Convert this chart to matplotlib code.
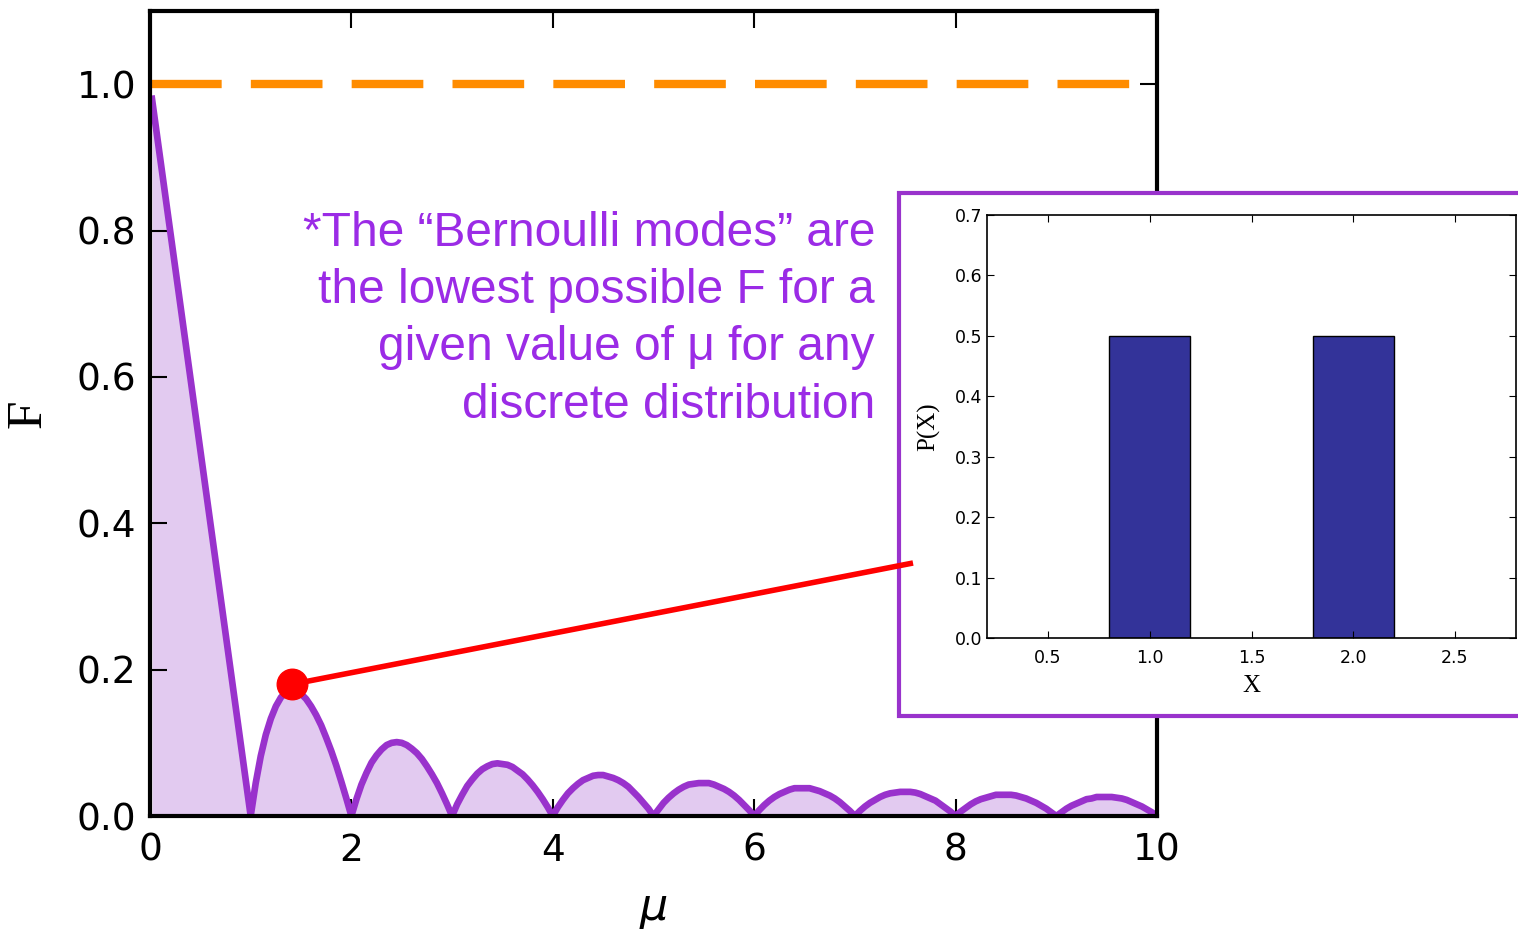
import numpy as np
import matplotlib.pyplot as plt
from matplotlib.patches import Rectangle
from matplotlib.lines import Line2D

# Fano factor F of the "Bernoulli modes"
# first leg (straight line from near 1 at mu=0 down to 0 at mu=1)
mu_first = [0.02, 1.0]
F_first = [0.98, 0.0]

# arcs between consecutive integers, sampled every 0.05 in mu (1.0 .. 10.0)
mu_arcs = np.linspace(1.0, 10.0, 181)
F_arcs = [
    0.0, 0.045, 0.082, 0.111, 0.133, 0.150, 0.162, 0.169, 0.171, 0.171,
    0.167, 0.160, 0.150, 0.138, 0.124, 0.107, 0.089, 0.069, 0.047, 0.024,
    0.0, 0.023, 0.043, 0.059, 0.073, 0.083, 0.091, 0.097, 0.100, 0.101,
    0.100, 0.097, 0.092, 0.086, 0.078, 0.068, 0.057, 0.045, 0.031, 0.016,
    0.0, 0.016, 0.029, 0.041, 0.050, 0.058, 0.064, 0.068, 0.071, 0.072,
    0.071, 0.070, 0.067, 0.062, 0.057, 0.050, 0.042, 0.033, 0.023, 0.012,
    0.0, 0.012, 0.022, 0.031, 0.038, 0.044, 0.049, 0.052, 0.055, 0.056,
    0.056, 0.054, 0.052, 0.049, 0.045, 0.040, 0.033, 0.026, 0.018, 0.010,
    0.0, 0.009, 0.018, 0.025, 0.031, 0.036, 0.040, 0.043, 0.044, 0.045,
    0.045, 0.045, 0.043, 0.040, 0.037, 0.033, 0.028, 0.022, 0.015, 0.008,
    0.0, 0.008, 0.015, 0.021, 0.026, 0.030, 0.033, 0.036, 0.038, 0.038,
    0.038, 0.038, 0.036, 0.034, 0.031, 0.028, 0.024, 0.019, 0.013, 0.007,
    0.0, 0.007, 0.013, 0.018, 0.022, 0.026, 0.029, 0.031, 0.032, 0.033,
    0.033, 0.033, 0.032, 0.030, 0.027, 0.024, 0.021, 0.016, 0.011, 0.006,
    0.0, 0.006, 0.011, 0.016, 0.020, 0.023, 0.025, 0.027, 0.029, 0.029,
    0.029, 0.029, 0.028, 0.026, 0.024, 0.021, 0.018, 0.014, 0.010, 0.005,
    0.0, 0.005, 0.010, 0.014, 0.017, 0.020, 0.023, 0.024, 0.026, 0.026,
    0.026, 0.026, 0.025, 0.024, 0.022, 0.019, 0.016, 0.013, 0.009, 0.005,
    0.0,
]

# highlighted point and where its pointer line ends
pt_mu, pt_F = 1.41, 0.18
end_mu, end_F = 7.55, 0.345

# inset: example discrete distribution
x_vals = [1.0, 2.0]
p_vals = [0.5, 0.5]

note = ("*The \u201cBernoulli modes\u201d are\n"
        "the lowest possible F for a\n"
        "given value of \u03bc for any\n"
        "discrete distribution")

mu = np.concatenate([mu_first, mu_arcs[1:]])
F = np.concatenate([F_first, F_arcs[1:]])

fig = plt.figure(figsize=(15.18, 9.31), dpi=100)
ax = fig.add_axes([0.0988, 0.1235, 0.6634, 0.8647])

ax.fill_between(mu, F, 0, color='#e2caf0', lw=0)
ax.plot(mu, F, color='#9932cc', lw=4.8, solid_joinstyle='round')
ax.axhline(1.0, color='#ff8c00', lw=6, dashes=(8.6, 3.5), dash_capstyle='butt')
ax.plot(pt_mu, pt_F, 'o', color='#ff0000', ms=22, zorder=5)

ax.set_xlim(0, 10)
ax.set_ylim(0, 1.1)
ax.set_xticks([0, 2, 4, 6, 8, 10])
ax.set_yticks([0.0, 0.2, 0.4, 0.6, 0.8, 1.0])
ax.tick_params(direction='in', length=12, width=1.5, labelsize=27,
               top=True, right=True)
ax.tick_params(axis='x', pad=12)
ax.tick_params(axis='y', pad=10)
for s in ax.spines.values():
    s.set_linewidth(3)
ax.set_xlabel(r'$\mu$', fontsize=32, labelpad=14)
ax.set_ylabel('F', fontsize=37, family='Liberation Serif', labelpad=18)

ax.text(7.2, 0.827, note, ha='right', va='top', multialignment='right',
        fontsize=34.5, family='Liberation Sans', color='#9b2be6',
        linespacing=1.35)

# framed inset
frame = Rectangle((899 / 1518, 1 - 716 / 931), 630 / 1518, 523 / 931,
                  transform=fig.transFigure, facecolor='white',
                  edgecolor='#9933cc', lw=3, zorder=2)
fig.add_artist(frame)

fig.add_artist(Line2D([pt_mu, end_mu], [pt_F, end_F], transform=ax.transData,
                      color='#ff0000', lw=4, zorder=4))

ins = fig.add_axes([0.6502, 0.3147, 0.3485, 0.4544], zorder=3)
ins.bar(x_vals, p_vals, width=0.4, color='#333399', edgecolor='black', lw=1)
ins.set_xlim(0.2, 2.8)
ins.set_ylim(0, 0.7)
ins.set_xticks([0.5, 1.0, 1.5, 2.0, 2.5])
ins.set_yticks(np.arange(0, 0.71, 0.1))
ins.tick_params(direction='in', length=5, labelsize=12.5, top=True, right=True)
ins.tick_params(axis='x', pad=8)
for s in ins.spines.values():
    s.set_linewidth(1.2)
ins.set_xlabel('X', fontsize=18, family='Liberation Serif', labelpad=6)
ins.set_ylabel('P(X)', fontsize=18, family='Liberation Serif', labelpad=10)

fig.savefig('out.png', dpi=100)
